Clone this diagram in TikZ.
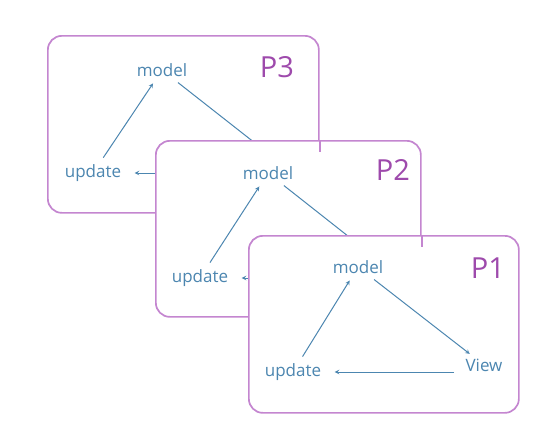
\documentclass[tikz,border=0pt]{standalone}
\usepackage{fontspec}
\setmainfont{Open Sans}
\definecolor{boxline}{RGB}{196,134,208}
\definecolor{plabel}{RGB}{158,74,172}
\definecolor{ink}{RGB}{76,134,176}
\tikzset{
  panel/.style={draw=boxline, line width=1.7pt, fill=white, rounded corners=14pt, anchor=north west},
  word/.style={text=ink, font=\fontsize{17}{20}\selectfont},
  tag/.style={text=plabel, font=\fontsize{29}{32}\selectfont},
  link/.style={draw=ink, line width=1pt},
}
\begin{document}
\begin{tikzpicture}[x=1pt, y=-1pt, >=stealth]
\useasboundingbox (0,0) rectangle (559,445);

% P3
\node (box3) [panel, minimum width=271pt, minimum height=177pt] at (47,35) {};
\node (model3) [word] at (162,70) {model};
\node (tag3) [tag] at (277,67) {P3};
\node (update3) [word] at (93,173) {update};
\coordinate (view3) at (283,165);
\draw[link, ->, shorten <=4pt, shorten >=4pt] (update3) -- (model3);
\draw[link, shorten <=4pt] (model3) -- (view3);
\draw[link, ->, shorten >=10pt] (view3 |- update3) -- (update3);

% P2
\node (box2) [panel, minimum width=265pt, minimum height=176pt] at (155,140) {};
\draw[boxline, line width=1.7pt] (box3.east |- box2.north) -- ++(0,12);
\node (model2) [word] at (268,173) {model};
\node (tag2) [tag] at (393,170) {P2};
\node (update2) [word] at (200,278) {update};
\coordinate (view2) at (391,270);
\draw[link, ->, shorten <=4pt, shorten >=4pt] (update2) -- (model2);
\draw[link, shorten <=4pt] (model2) -- (view2);
\draw[link, ->, shorten >=10pt] (view2 |- update2) -- (update2);

% P1
\node (box1) [panel, minimum width=270pt, minimum height=177pt] at (248,235) {};
\draw[boxline, line width=1.7pt] (box2.east |- box1.north) -- ++(0,12);
\node (model1) [word] at (358,267) {model};
\node (tag1) [tag] at (488,268) {P1};
\node (update1) [word] at (293,372) {update};
\node (view1) [word] at (484,365) {View};
\draw[link, ->, shorten <=4pt, shorten >=4pt] (update1) -- (model1);
\draw[link, ->, shorten <=4pt, shorten >=2pt] (model1) -- (view1);
\draw[link, ->, shorten <=8pt, shorten >=10pt] (view1.west |- update1) -- (update1);

\end{tikzpicture}
\end{document}
